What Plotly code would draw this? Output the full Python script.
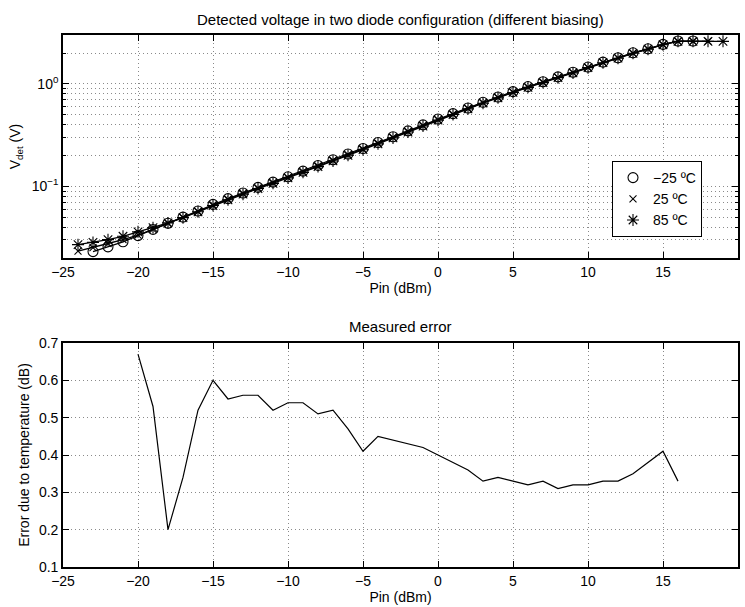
import plotly.graph_objects as go

# ---- data ----
pin_m25 = list(range(-23, 18))
v_m25 = [0.0231, 0.0257, 0.0288, 0.0331, 0.0380, 0.0437, 0.0501, 0.0575, 0.0667, 0.0759,
         0.0861, 0.0977, 0.110, 0.124, 0.141, 0.160, 0.182, 0.207, 0.234, 0.268,
         0.305, 0.348, 0.398, 0.454, 0.513, 0.582, 0.661, 0.745, 0.841, 0.942,
         1.05, 1.17, 1.30, 1.46, 1.63, 1.80, 2.01, 2.20, 2.43, 2.62, 2.62]

pin_25 = list(range(-24, 19))
v_25 = [0.0233, 0.0252, 0.0277, 0.0302, 0.0335, 0.0381, 0.0436, 0.0498, 0.0571, 0.0660,
        0.0750, 0.0852, 0.0965, 0.109, 0.122, 0.139, 0.158, 0.179, 0.204, 0.231,
        0.264, 0.301, 0.343, 0.393, 0.449, 0.508, 0.577, 0.655, 0.738, 0.833,
        0.933, 1.04, 1.16, 1.29, 1.45, 1.62, 1.79, 2.00, 2.19, 2.42, 2.61, 2.61, 2.61]

pin_85 = list(range(-24, 20))
v_85 = [0.0270, 0.0284, 0.0302, 0.0326, 0.0360, 0.0395, 0.0440, 0.0495, 0.0565, 0.0650,
        0.0740, 0.0840, 0.0952, 0.107, 0.121, 0.137, 0.156, 0.177, 0.201, 0.228,
        0.260, 0.297, 0.339, 0.388, 0.443, 0.502, 0.571, 0.648, 0.731, 0.825,
        0.925, 1.03, 1.15, 1.28, 1.44, 1.61, 1.78, 1.99, 2.18, 2.41, 2.60, 2.60, 2.60, 2.60]

pin_err = list(range(-20, 17))
err_db = [0.67, 0.53, 0.20, 0.34, 0.52, 0.60, 0.55, 0.56, 0.56, 0.52,
          0.54, 0.54, 0.51, 0.52, 0.47, 0.41, 0.45, 0.44, 0.43, 0.42,
          0.40, 0.38, 0.36, 0.33, 0.34, 0.33, 0.32, 0.33, 0.31, 0.32,
          0.32, 0.33, 0.33, 0.35, 0.38, 0.41, 0.33]

legend_labels = ["\u221225 \u00baC", "25 \u00baC", "85 \u00baC"]
x_ticks = [-25, -20, -15, -10, -5, 0, 5, 10, 15, 20]
err_ticks = [0.1, 0.2, 0.3, 0.4, 0.5, 0.6, 0.7]

W, H = 745, 607
FONT = "Liberation Sans, Arial, sans-serif"
FS = 14
GRID = "#8a8a8a"
DOT = "1px,3px"

fig = go.Figure()

symbols = ["circle-open", "x-thin-open", "asterisk-open"]
sizes = [10, 7, 10]
series = [(pin_m25, v_m25), (pin_25, v_25), (pin_85, v_85)]
for (xs, ys), sym, sz in zip(series, symbols, sizes):
    fig.add_trace(go.Scatter(x=xs, y=ys, mode="lines+markers", showlegend=False,
                             line=dict(color="black", width=1.3),
                             marker=dict(symbol=sym, size=sz, color="black",
                                         line=dict(color="black", width=1.1)),
                             xaxis="x", yaxis="y"))
# legend-only entries (markers only)
for lab, sym, sz in zip(legend_labels, symbols, sizes):
    fig.add_trace(go.Scatter(x=[None], y=[None], mode="markers", name=lab,
                             marker=dict(symbol=sym, size=sz, color="black",
                                         line=dict(color="black", width=1.1)),
                             xaxis="x", yaxis="y"))

fig.add_trace(go.Scatter(x=pin_err, y=err_db, mode="lines", showlegend=False,
                         line=dict(color="black", width=1.2), xaxis="x2", yaxis="y2"))

def px_x(p):
    return p / W

def px_y(p):
    return 1 - p / H

axis_common = dict(showline=True, linecolor="black", linewidth=1.6, mirror="allticks",
                   ticks="inside", ticklen=6, tickcolor="black", zeroline=False,
                   showgrid=True, gridcolor=GRID, griddash=DOT, gridwidth=1,
                   tickfont=dict(family=FONT, size=FS, color="black"),
                   automargin=False)

minor_vals = [0.02, 0.03, 0.04, 0.05, 0.06, 0.07, 0.08, 0.09,
              0.2, 0.3, 0.4, 0.5, 0.6, 0.7, 0.8, 0.9, 2, 3]

xt_text = [str(v).replace("-", "\u2212") for v in x_ticks]

fig.update_layout(
    width=W, height=H, margin=dict(l=0, r=0, t=0, b=0),
    paper_bgcolor="white", plot_bgcolor="white",
    font=dict(family=FONT, size=FS, color="black"),
    xaxis=dict(domain=[px_x(63), px_x(738)], anchor="y", range=[-25, 20],
               tickvals=x_ticks, ticktext=xt_text,
               title=dict(text="Pin (dBm)", standoff=2, font=dict(size=FS)),
               **axis_common),
    yaxis=dict(domain=[px_y(258), px_y(35)], anchor="x", type="log",
               range=[-1.69897, 0.4771],
               tickvals=[0.1, 1], ticktext=["10<sup>\u22121</sup>", "10<sup>0</sup>"],
               minor=dict(tickvals=minor_vals, ticks="inside", ticklen=3, tickcolor="black",
                          showgrid=True, gridcolor=GRID, griddash=DOT, gridwidth=1),
               title=dict(text="V<sub>det</sub> (V)", standoff=8, font=dict(size=FS)),
               **axis_common),
    xaxis2=dict(domain=[px_x(63), px_x(738)], anchor="y2", range=[-25, 20],
                tickvals=x_ticks, ticktext=xt_text,
                title=dict(text="Pin (dBm)", standoff=2, font=dict(size=FS)),
                **axis_common),
    yaxis2=dict(domain=[px_y(567), px_y(343)], anchor="x2", range=[0.1, 0.7],
                tickvals=err_ticks, ticktext=[f"{v:.1f}" for v in err_ticks],
                title=dict(text="Error due to temperature (dB)", standoff=6, font=dict(size=FS)),
                **axis_common),
    legend=dict(x=px_x(612), y=px_y(161), xanchor="left", yanchor="top",
                bgcolor="white", bordercolor="black", borderwidth=1,
                font=dict(family=FONT, size=FS, color="black"),
                itemwidth=30, tracegroupgap=0),
    annotations=[
        dict(text="Detected voltage in two diode configuration (different biasing)",
             x=px_x(400), y=px_y(19), xref="paper", yref="paper", showarrow=False,
             xanchor="center", yanchor="middle", font=dict(family=FONT, size=15)),
        dict(text="Measured error",
             x=px_x(400), y=px_y(326), xref="paper", yref="paper", showarrow=False,
             xanchor="center", yanchor="middle", font=dict(family=FONT, size=15)),
    ],
)

fig.write_html("out.html")
